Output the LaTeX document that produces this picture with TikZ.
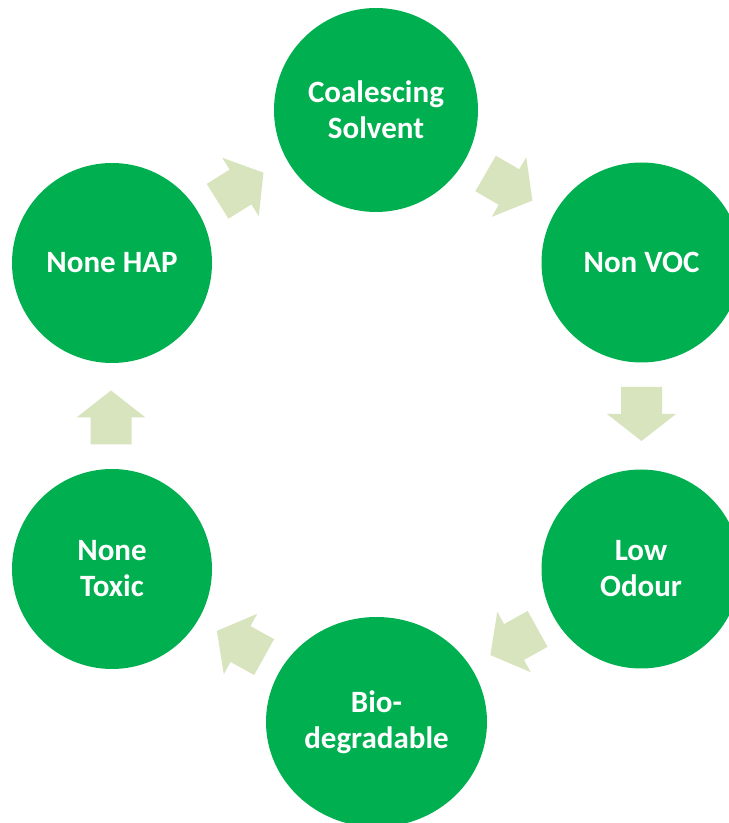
\documentclass[tikz,border=0pt]{standalone}
\usepackage{fontspec}
\usetikzlibrary{shapes.geometric}
\setmainfont{Carlito}
\definecolor{cgreen}{HTML}{00B050}
\definecolor{carrow}{HTML}{D8E4BD}
\tikzset{
  bubble/.style={circle, fill=cgreen, text=white, minimum size=#1, inner sep=0pt, align=center,
    font=\bfseries\fontsize{31}{36}\selectfont},
  cycarrow/.pic={\fill[carrow] (-27,-20.5) -- (0,-20.5) -- (0,-34.5) -- (27,0) -- (0,34.5) -- (0,20.5) -- (-27,20.5) -- cycle;}
}
\begin{document}
\begin{tikzpicture}[x=1pt,y=1pt]
\useasboundingbox (0,0) rectangle (729,823);
\clip (0,0) rectangle (729,823);
\fill[white] (0,0) rectangle (729,823);
\node[bubble=204pt] (coal) at (376,713) {Coalescing\\Solvent};
\node[bubble=200pt] (voc) at (641.5,560.5) {Non VOC};
\node[bubble=199pt] (odour) at (641,254) {Low\\Odour};
\node[bubble=210pt, ellipse, minimum width=221pt, minimum height=210pt] (bio) at (376.5,101) {Bio-\\degradable};
\node[bubble=200pt] (toxic) at (112,254) {None\\Toxic};
\node[bubble=200pt] (hap) at (112,560) {None HAP};
\pic[rotate=32] (a1) at (240.5,636) {cycarrow};
\pic[rotate=-30] (a2) at (509,636) {cycarrow};
\pic[rotate=-90] (a3) at (641.5,409) {cycarrow};
\pic[rotate=209] (a4) at (514,181) {cycarrow};
\pic[rotate=151] (a5) at (240.5,179) {cycarrow};
\pic[rotate=90] (a6) at (111,405.5) {cycarrow};
\end{tikzpicture}
\end{document}
